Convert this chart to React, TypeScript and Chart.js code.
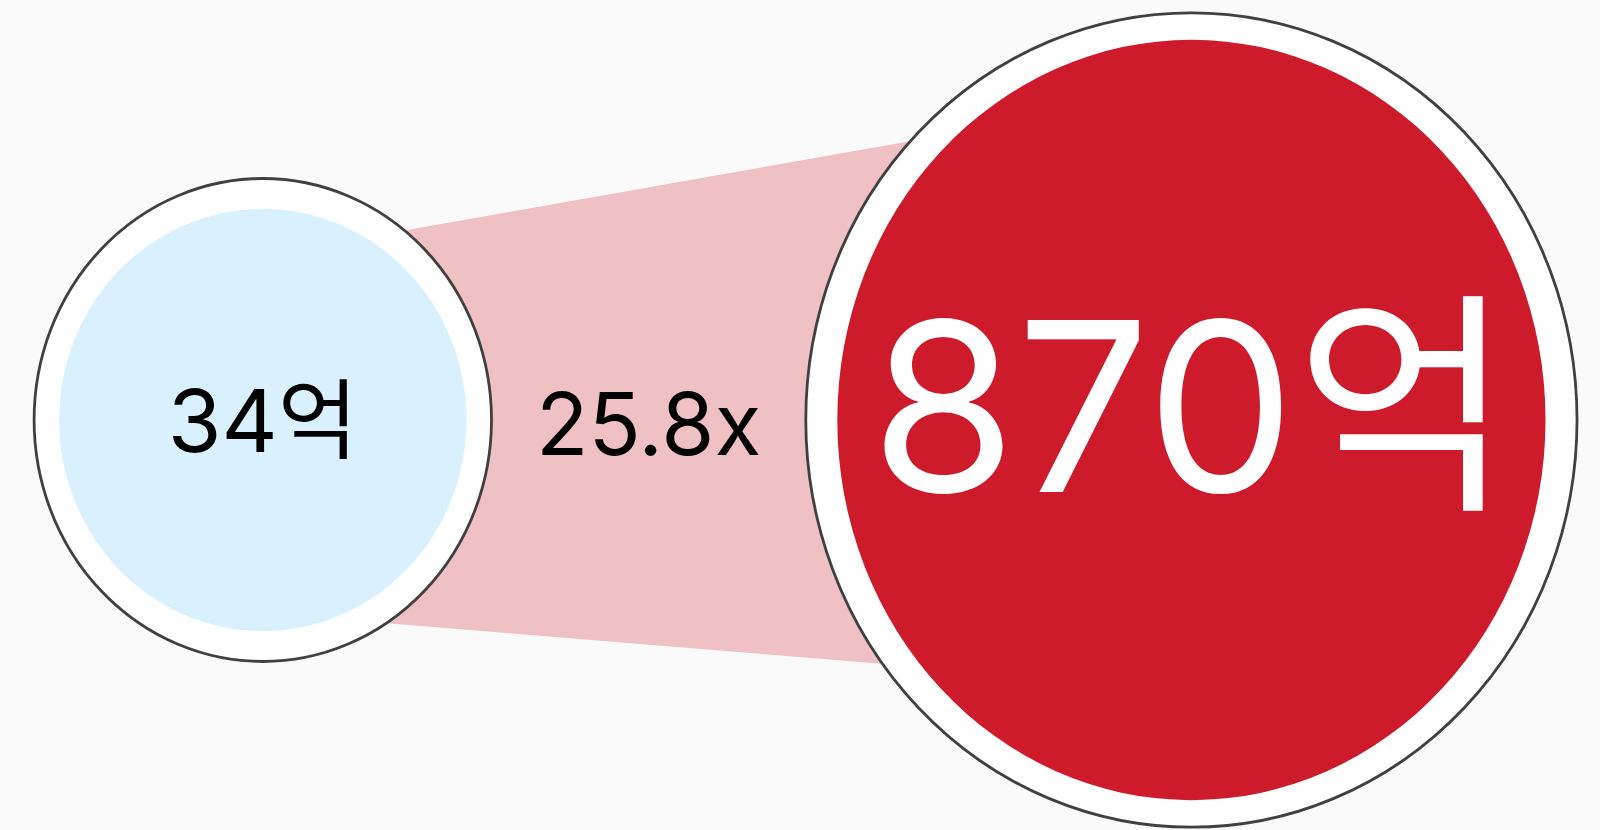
import React, { useEffect, useRef } from "react";
import { Chart, registerables } from "chart.js";

Chart.register(...registerables);

// ---- data ----
const categories = ["이전", "현재"];
const values = [34, 870];
const valueLabels = ["34억", "870억"];
const ratioLabel = "25.8x";
const xIndex = [0, 1];
const yLevel = [0, 0];
const bubbleRadius = [2.415, 4.072]; // in y-axis units

// ---- styles ----
const STYLE = {
  background: "#fafafa",
  outline: "#404040",
  outlineWidth: 2.8,
  ring: "#ffffff",
  fills: ["#d9f1fe", "#ce1b2c"],
  ringX: [25, 31.5],
  ringY: [30.5, 27],
  aspect: 0.947,
  connector: "#efc0c4",
  connTop: [0.681, 0.807],
  connBottom: [0.799, 0.661],
  font: 'Inter, "Noto Sans CJK KR", sans-serif',
  labelSizes: [87, 236],
  labelColors: ["#000000", "#ffffff"],
  labelOffsets: [32, 72],
  ratioSize: 86,
  ratioColor: "#000000",
  ratioOffset: 35,
};

const comparePlugin = {
  id: "compareBubbles",
  afterDatasetsDraw(chart: any) {
    const ctx = chart.ctx as CanvasRenderingContext2D;
    const ys = chart.scales.y;
    const meta = chart.getDatasetMeta(0);
    const raw = chart.data.datasets[0].data as any[];
    const pts = meta.data.map((el: any, i: number) => {
      const ry = ys.getPixelForValue(raw[i].y - raw[i].r) - ys.getPixelForValue(raw[i].y);
      return { cx: el.x, cy: el.y, ry, rx: ry * STYLE.aspect };
    });
    if (pts.length < 2) return;
    const [a, b] = pts;

    ctx.save();
    // connector band
    ctx.beginPath();
    ctx.moveTo(a.cx, a.cy - STYLE.connTop[0] * a.ry);
    ctx.lineTo(b.cx, b.cy - STYLE.connTop[1] * b.ry);
    ctx.lineTo(b.cx, b.cy + STYLE.connBottom[1] * b.ry);
    ctx.lineTo(a.cx, a.cy + STYLE.connBottom[0] * a.ry);
    ctx.closePath();
    ctx.fillStyle = STYLE.connector;
    ctx.fill();

    pts.forEach((p: any, i: number) => {
      ctx.beginPath();
      ctx.ellipse(p.cx, p.cy, p.rx, p.ry, 0, 0, Math.PI * 2);
      ctx.fillStyle = STYLE.ring;
      ctx.fill();
      ctx.lineWidth = STYLE.outlineWidth;
      ctx.strokeStyle = STYLE.outline;
      ctx.stroke();

      ctx.beginPath();
      ctx.ellipse(p.cx, p.cy, p.rx - STYLE.ringX[i], p.ry - STYLE.ringY[i], 0, 0, Math.PI * 2);
      ctx.fillStyle = STYLE.fills[i];
      ctx.fill();

      ctx.font = `400 ${STYLE.labelSizes[i]}px ${STYLE.font}`;
      ctx.textAlign = "center";
      ctx.textBaseline = "alphabetic";
      ctx.fillStyle = STYLE.labelColors[i];
      ctx.fillText(valueLabels[i], p.cx, p.cy + STYLE.labelOffsets[i]);
    });

    const midX = (a.cx + a.rx + (b.cx - b.rx)) / 2;
    ctx.font = `400 ${STYLE.ratioSize}px ${STYLE.font}`;
    ctx.textAlign = "center";
    ctx.textBaseline = "alphabetic";
    ctx.fillStyle = STYLE.ratioColor;
    ctx.fillText(ratioLabel, midX, (a.cy + b.cy) / 2 + STYLE.ratioOffset);
    ctx.restore();
  },
};

export default function App() {
  const ref = useRef<HTMLCanvasElement | null>(null);
  useEffect(() => {
    if (!ref.current) return;
    const chart = new Chart(ref.current, {
      type: "bubble",
      data: {
        datasets: [
          {
            label: "매출",
            data: categories.map((c, i) => ({ x: xIndex[i], y: yLevel[i], r: bubbleRadius[i], v: values[i] })) as any,
            backgroundColor: "rgba(0,0,0,0)",
            borderColor: "rgba(0,0,0,0)",
            borderWidth: 0,
            hoverRadius: 0,
          },
        ],
      },
      options: {
        responsive: false,
        animation: false,
        events: [],
        layout: { autoPadding: false, padding: { top: 10, left: 0, right: 0, bottom: 0 } },
        plugins: { legend: { display: false }, tooltip: { enabled: false } },
        scales: {
          x: { type: "linear", display: false, min: -0.283, max: 1.44 },
          y: { type: "linear", display: false, min: -4.1, max: 4.1 },
        },
      },
      plugins: [comparePlugin],
    });
    return () => chart.destroy();
  }, []);
  return (
    <div style={{ position: "fixed", left: 0, top: 0, width: 1600, height: 830, background: STYLE.background }}>
      <canvas ref={ref} width={1600} height={830} style={{ display: "block" }} />
    </div>
  );
}
